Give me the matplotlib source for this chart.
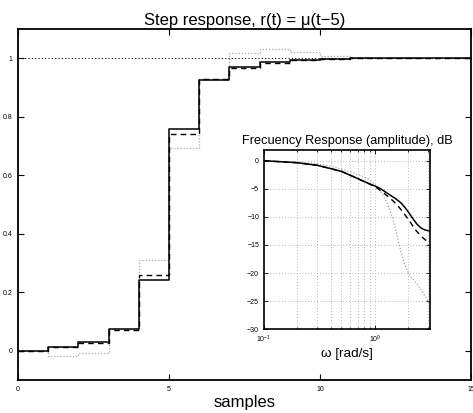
import numpy as np
import matplotlib
matplotlib.use("Agg")
import matplotlib.pyplot as plt
from matplotlib.ticker import FixedLocator, LogLocator, NullFormatter

plt.rcParams['font.family'] = ['Liberation Sans', 'DejaVu Sans']
plt.rcParams['mathtext.fontset'] = 'custom'
plt.rcParams['mathtext.rm'] = 'Liberation Sans'
plt.rcParams['mathtext.it'] = 'Liberation Sans:italic'

# ---- step response data (sample index k, value held from k to k+1)
samples = list(range(16))
y_solid = [0, 0.013, 0.031, 0.074, 0.243, 0.757, 0.926, 0.970, 0.986, 0.995, 0.998, 0.999, 1.0, 1.0, 1.0, 1.0]
y_dashed = [0, 0.011, 0.026, 0.072, 0.260, 0.741, 0.928, 0.967, 0.984, 0.994, 0.998, 0.999, 1.0, 1.0, 1.0, 1.0]
y_dotted = [0, -0.017, -0.008, 0.074, 0.309, 0.693, 0.930, 1.019, 1.031, 1.020, 1.008, 1.0, 1.0, 1.0, 1.0, 1.0]
ref_level = 1.0
x_ticks = [0, 5, 10, 15]
y_ticks = [0, 0.2, 0.4, 0.6, 0.8, 1.0]
y_ticklabels = ['0', '0.2', '0.4', '0.6', '0.8', '1']

# ---- frequency response data (omega rad/s, amplitude dB)
w_solid = [0.1, 0.2, 0.3, 0.4, 0.5, 0.67, 0.8, 1.0, 1.13, 1.3, 1.55, 1.72, 1.9, 2.05, 2.2, 2.4, 2.6, 2.8, 3.0, 3.14]
db_solid = [0, -0.36, -0.8, -1.4, -1.9, -3.0, -3.7, -4.5, -5.0, -5.8, -6.8, -7.5, -8.5, -9.4, -10.3, -11.3, -11.95, -12.3, -12.45, -12.5]
w_dashed = [0.1, 0.2, 0.3, 0.4, 0.5, 0.67, 0.8, 1.0, 1.13, 1.3, 1.45, 1.61, 1.8, 2.05, 2.3, 2.6, 2.85, 3.14]
db_dashed = [0, -0.36, -0.8, -1.4, -1.9, -3.0, -3.7, -4.6, -5.3, -6.3, -7.1, -8.0, -9.2, -10.7, -12.2, -13.4, -14.1, -14.6]
w_dotted = [0.1, 0.2, 0.3, 0.4, 0.5, 0.67, 0.8, 0.89, 1.0, 1.06, 1.2, 1.3, 1.44, 1.5, 1.6, 1.72, 1.85, 2.05, 2.25, 2.46, 2.8, 3.14]
db_dotted = [0, -0.2, -0.55, -1.0, -1.5, -2.3, -2.9, -3.4, -4.2, -4.7, -6.3, -7.7, -10.1, -11.3, -13.6, -16.2, -18.4, -20.4, -21.3, -22.2, -23.9, -25.5]

fig = plt.figure(figsize=(4.73, 4.13), dpi=100)

ax = fig.add_axes([0.038, 0.080, 0.958, 0.850])
ax.axhline(ref_level, color='black', linestyle=(0, (1, 2)), linewidth=0.8)
ax.step(samples, y_dotted, where='post', color='#a8a8a8', linestyle=(0, (1, 1.5)), linewidth=0.9)
ax.step(samples, y_dashed, where='post', color='black', linestyle=(0, (4, 3)), linewidth=1.0)
ax.step(samples, y_solid, where='post', color='black', linestyle='-', linewidth=1.1)
ax.set_xlim(0, 15)
ax.set_ylim(-0.1, 1.1)
ax.set_xticks(x_ticks)
ax.set_yticks(y_ticks)
ax.set_yticklabels(y_ticklabels)
ax.tick_params(direction='in', top=True, right=True, labelsize=5, length=4, width=0.8, pad=4)
for s in ax.spines.values():
    s.set_linewidth(1.3)
ax.set_title('Step response, r(t) = \u03bc(t\u22125)', fontsize=12, pad=3)
ax.set_xlabel('samples', fontsize=12, labelpad=2)

# ---- inset
ia = fig.add_axes([0.558, 0.203, 0.351, 0.435])
ia.set_facecolor('white')
ia.semilogx(w_dotted, db_dotted, color='#a8a8a8', linestyle=(0, (1, 1.5)), linewidth=0.9)
ia.semilogx(w_dashed, db_dashed, color='black', linestyle=(0, (4, 3)), linewidth=1.0)
ia.semilogx(w_solid, db_solid, color='black', linestyle='-', linewidth=1.1)
ia.set_xlim(0.1, np.pi)
ia.set_ylim(-30, 2)
ia.set_yticks([0, -5, -10, -15, -20, -25, -30])
ia.set_yticklabels(['0', '\u22125', '\u221210', '\u221215', '\u221220', '\u221225', '\u221230'])
ia.xaxis.set_major_locator(FixedLocator([0.1, 1.0]))
ia.set_xticklabels(['$10^{-1}$', '$10^{0}$'])
ia.xaxis.set_minor_locator(LogLocator(base=10, subs=np.arange(2, 10)))
ia.xaxis.set_minor_formatter(NullFormatter())
ia.grid(True, which='both', axis='x', color='#a0a0a0', linestyle=(0, (1, 2.5)), linewidth=0.6)
ia.grid(True, which='major', axis='y', color='#a0a0a0', linestyle=(0, (1, 2.5)), linewidth=0.6)
ia.tick_params(which='both', direction='in', top=True, right=True, labelsize=5, width=0.6)
ia.tick_params(which='major', length=3)
ia.tick_params(which='minor', length=1.5)
for s in ia.spines.values():
    s.set_linewidth(1.2)
ia.set_title('Frecuency Response (amplitude), dB', fontsize=9.2, pad=4)
ia.set_xlabel('\u03c9 [rad/s]', fontsize=9.7, labelpad=2)

fig.savefig('out.png', dpi=100)
